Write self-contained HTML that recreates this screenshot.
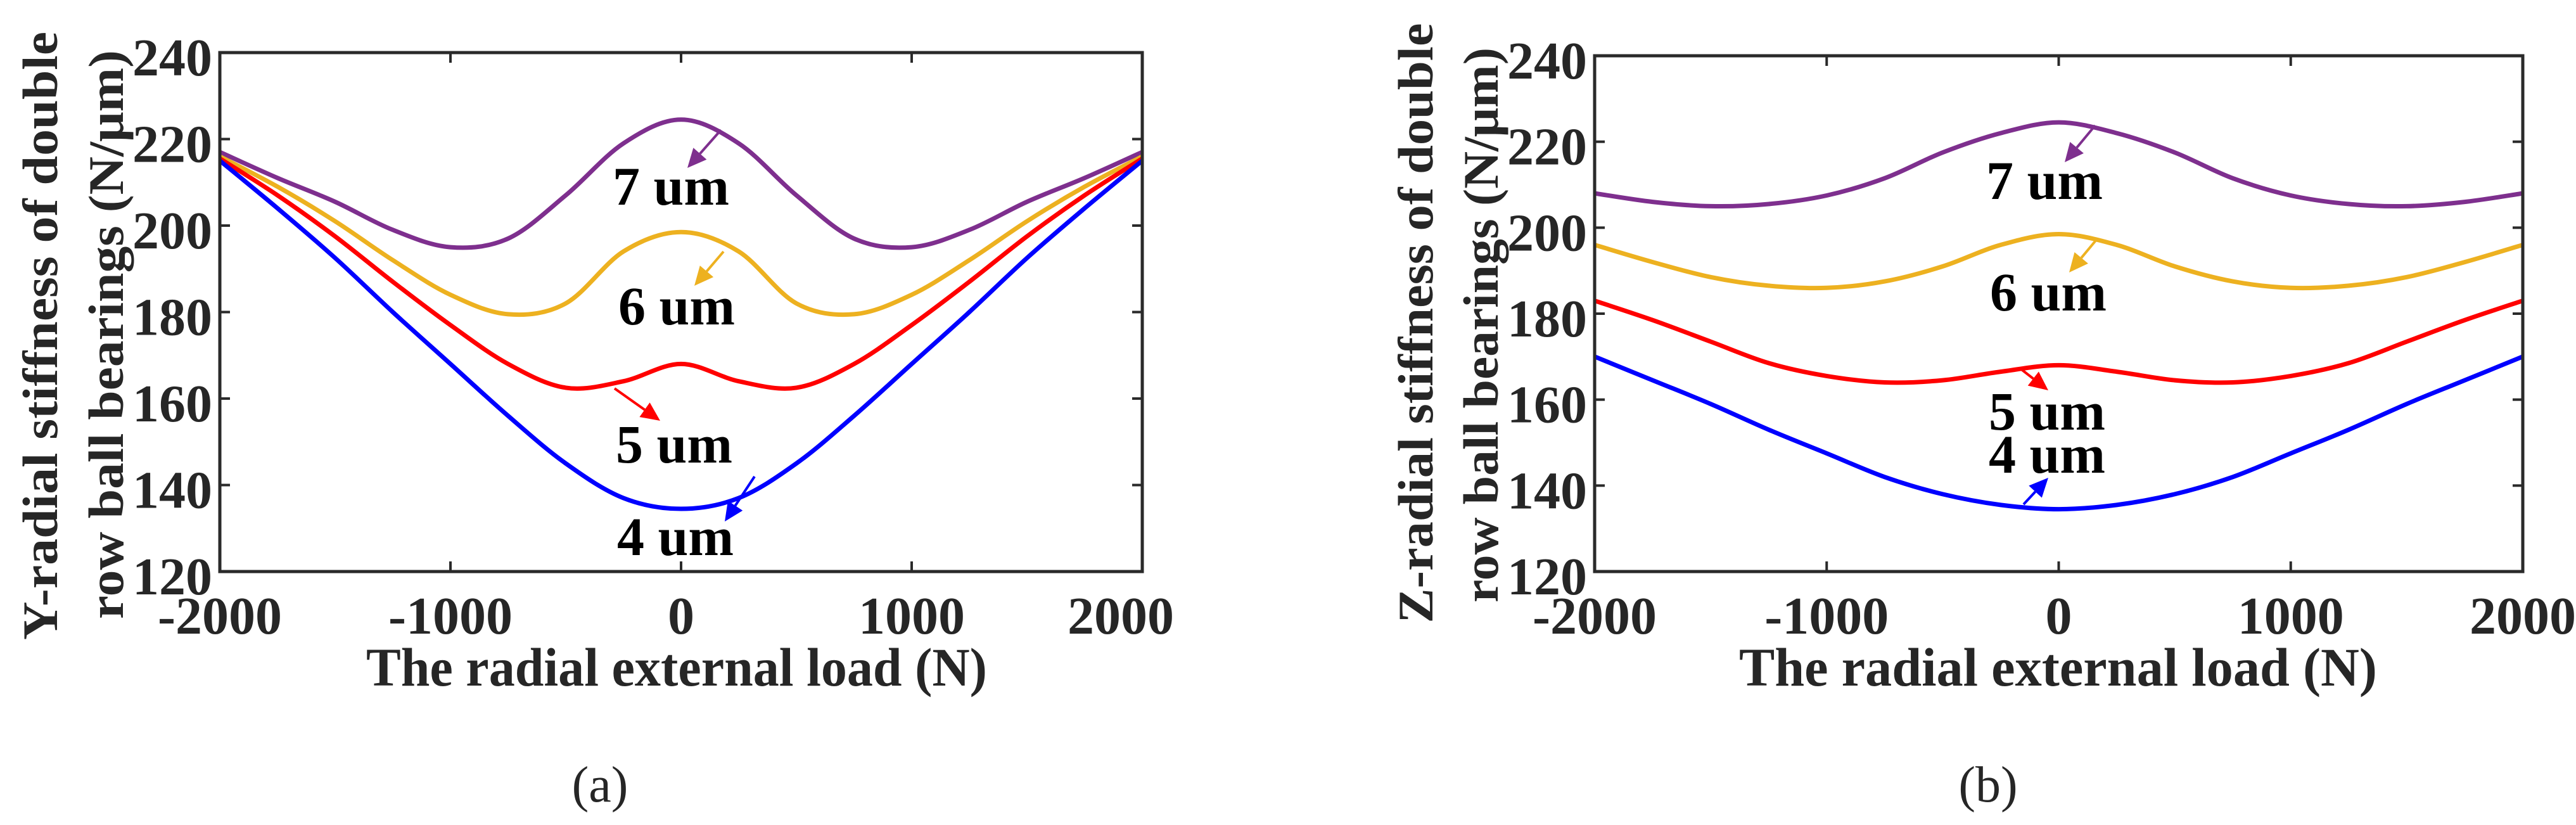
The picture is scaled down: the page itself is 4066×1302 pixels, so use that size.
<!DOCTYPE html>
<html><head><meta charset="utf-8"><style>
html,body{margin:0;padding:0;background:#fff;}
svg{display:block;}
text{font-family:"Liberation Serif","Times New Roman",serif;fill:#262626;}
</style></head><body>
<svg id="fig" width="4066" height="1302" viewBox="0 0 4066 1302" xmlns="http://www.w3.org/2000/svg">
</svg>
<script>
// ----- data -----
const xValues = [-2000,-1750,-1500,-1250,-1000,-750,-500,-250,0,250,500,750,1000,1250,1500,1750,2000];
const xTicks = [-2000,-1000,0,1000,2000];
const yTicks = [120,140,160,180,200,220,240];
const seriesLabels = ["7 um","6 um","5 um","4 um"];
const seriesColors = ["#7E2F8E","#EDB120","#FF0000","#0000FF"];
// Panel (a) Y-radial stiffness
const aY7 = [217,211,205.5,199,195,197,207,219,224.5,219,207,197,195,199,205.5,211,217];
const aY6 = [216,209,201,192,184,179.5,182,194,198.5,194,182,179.5,184,192,201,209,216];
const aY5 = [215.5,207,197.5,187,177,168,162.5,164,168,164,162.5,168,177,187,197.5,207,215.5];
const aY4 = [215,204,192.5,180,168,156,145,137,134.5,137,145,156,168,180,192.5,204,215];
// Panel (b) Z-radial stiffness
const bZ7 = [208,206,205,205.5,207.5,211.5,217.5,222,224.5,222,217.5,211.5,207.5,205.5,205,206,208];
const bZ6 = [196,192,188.5,186.5,186,187.5,191,196,198.5,196,191,187.5,186,186.5,188.5,192,196];
const bZ5 = [183,178.5,173.5,168.5,165.5,164,164.5,166.5,168,166.5,164.5,164,165.5,168.5,173.5,178.5,183];
const bZ4 = [170,164.5,159,153,147.5,142,138,135.5,134.5,135.5,138,142,147.5,153,159,164.5,170];

const NS = "http://www.w3.org/2000/svg";
const svg = document.getElementById('fig');
function mk(tag, attrs, parent){ const e=document.createElementNS(NS,tag); for(const k in attrs) e.setAttribute(k,attrs[k]); (parent||svg).appendChild(e); return e; }

function smoothPath(pts){
  let d = "M"+pts[0][0].toFixed(1)+","+pts[0][1].toFixed(1);
  for(let i=0;i<pts.length-1;i++){
    const p0=pts[Math.max(0,i-1)], p1=pts[i], p2=pts[i+1], p3=pts[Math.min(pts.length-1,i+2)];
    const c1=[p1[0]+(p2[0]-p0[0])/6, p1[1]+(p2[1]-p0[1])/6];
    const c2=[p2[0]-(p3[0]-p1[0])/6, p2[1]-(p3[1]-p1[1])/6];
    d+=" C"+c1[0].toFixed(1)+","+c1[1].toFixed(1)+" "+c2[0].toFixed(1)+","+c2[1].toFixed(1)+" "+p2[0].toFixed(1)+","+p2[1].toFixed(1);
  }
  return d;
}

function panel(cfg){
  const g = mk('g',{});
  
  
  const L=cfg.x0, R=cfg.x1, T=cfg.y0, B=cfg.y1;
  const sx = v => L + (v+2000)/4000*(R-L);
  const sy = v => B - (v-120)/120*(B-T);
  cfg.series.forEach((arr,si)=>{
    const pts = arr.map((v,i)=>[sx(xValues[i]), sy(v)]);
    const p = mk('path',{d:smoothPath(pts),fill:'none',stroke:seriesColors[si],'stroke-width':7,'stroke-linejoin':'round'},g);
    
    
  });
  const fr = mk('rect',{x:L,y:T,width:R-L,height:B-T,fill:'none',stroke:'#2a2a2a','stroke-width':5},g);
  
  
  xTicks.forEach((t,i)=>{
    const x=sx(t);
    mk('line',{x1:x,y1:B,x2:x,y2:B-16,stroke:'#2a2a2a','stroke-width':4},g);
    mk('line',{x1:x,y1:T,x2:x,y2:T+16,stroke:'#2a2a2a','stroke-width':4},g);
    const off = (i===xTicks.length-1) ? cfg.lastOff : 0;
    const tx = mk('text',{x:x+off,y:1000,'text-anchor':'middle','font-size':84,'font-weight':'bold'},g);
    tx.textContent = t;
    
    
  });
  yTicks.forEach(t=>{
    const y=sy(t);
    mk('line',{x1:L,y1:y,x2:L+16,y2:y,stroke:'#2a2a2a','stroke-width':4},g);
    mk('line',{x1:R,y1:y,x2:R-16,y2:y,stroke:'#2a2a2a','stroke-width':4},g);
    const ty = mk('text',{x:L-12,y:y+36,'text-anchor':'end','font-size':84,'font-weight':'bold'},g);
    ty.textContent = t;
    
    
  });
  const xt = mk('text',{x:cfg.xtX,y:1082,'font-size':86,'font-weight':'bold',textLength:cfg.xtW,lengthAdjust:'spacingAndGlyphs'},g);
  xt.textContent = "The radial external load (N)";
  
  
  const y1 = mk('text',{x:0,y:0,'text-anchor':'middle','font-size':78,'font-weight':'bold',textLength:cfg.l1W,lengthAdjust:'spacingAndGlyphs',transform:`translate(${cfg.l1X},${cfg.l1C}) rotate(-90)`},g);
  y1.textContent = cfg.l1;
  
  
  const y2 = mk('text',{x:0,y:0,'text-anchor':'middle','font-size':78,'font-weight':'bold',textLength:cfg.l2W,lengthAdjust:'spacingAndGlyphs',transform:`translate(${cfg.l2X},${cfg.l2C}) rotate(-90)`},g);
  y2.textContent = "row ball bearings (N/\u03bcm)";
  
  
  cfg.ann.forEach((a,i)=>{
    const t = mk('text',{x:a.tx,y:a.ty,'text-anchor':'middle','font-size':86,'font-weight':'bold'},g);
    t.style.fill='#000';
    t.textContent = seriesLabels[i];
    
    
    const c=seriesColors[i];
    const dx=a.x2-a.x1, dy=a.y2-a.y1, len=Math.hypot(dx,dy), ux=dx/len, uy=dy/len;
    const hl=30, hw=14;
    const bx=a.x2-ux*hl, by=a.y2-uy*hl;
    const ln = mk('line',{x1:a.x1,y1:a.y1,x2:bx,y2:by,stroke:c,'stroke-width':4},g);
    
    
    mk('path',{d:`M${a.x2},${a.y2} L${bx-uy*hw},${by+ux*hw} L${bx+uy*hw},${by-ux*hw} Z`,fill:c},g);
  });
  const cap = mk('text',{x:cfg.capX,y:1265,'text-anchor':'middle','font-size':80},g);
  cap.textContent = cfg.cap;
  
  
}

panel({name:'panel-a-chart',x0:347,x1:1803,y0:83,y1:902,series:[aY7,aY6,aY5,aY4],lastOff:-34,
  xtX:578,xtW:980,l1:"Y-radial stiffness of double",l1X:90,l1C:530,l1W:960,l2X:194,l2C:528,l2W:898,
  ann:[{tx:1059,ty:323,x1:1138,y1:205,x2:1085,y2:265},
       {tx:1068,ty:512,x1:1142,y1:397,x2:1096,y2:451},
       {tx:1064,ty:730,x1:970,y1:613,x2:1042,y2:664},
       {tx:1066,ty:876,x1:1191,y1:752,x2:1144,y2:823}],
  capX:947,cap:"(a)"});
panel({name:'panel-b-chart',x0:2517,x1:3982,y0:88,y1:902,series:[bZ7,bZ6,bZ5,bZ4],lastOff:0,
  xtX:2745,xtW:1007,l1:"Z-radial stiffness of double",l1X:2261,l1C:510,l1W:947,l2X:2364,l2C:513,l2W:876,
  ann:[{tx:3227,ty:314,x1:3307,y1:198,x2:3259,y2:256},
       {tx:3233,ty:490,x1:3311,y1:376,x2:3266,y2:430},
       {tx:3231,ty:678,x1:3188,y1:581,x2:3233,y2:616},
       {tx:3231,ty:746,x1:3194,y1:796,x2:3233,y2:754}],
  capX:3138,cap:"(b)"});
</script>
</body></html>
